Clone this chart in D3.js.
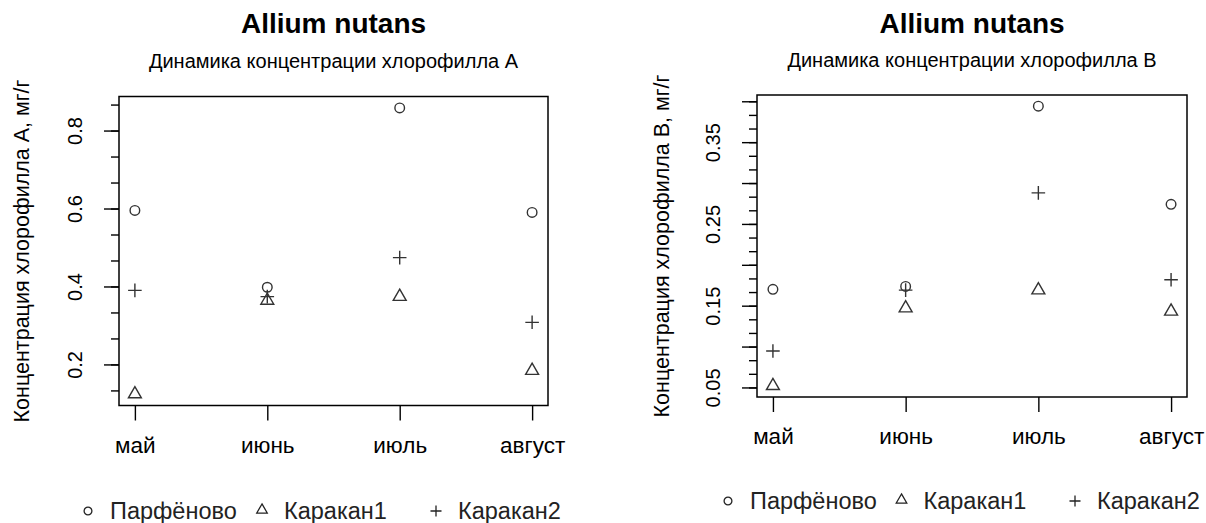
<!DOCTYPE html>
<html>
<head>
<meta charset="utf-8">
<script src="https://cdn.jsdelivr.net/npm/d3@7"></script>
<style>
  body { margin: 0; background: #fff; }
  svg { display: block; font-family: "Liberation Sans", Arial, sans-serif; }
</style>
</head>
<body>
<svg id="chart" width="1206" height="523"></svg>
<script>
// data
var months = ["май", "июнь", "июль", "август"];
var sites = ["Парфёново", "Каракан1", "Каракан2"];
var symbols = ["circle", "triangle", "plus"];

// chlorophyll A, mg/g
var chlA_parf = [0.595, 0.398, 0.858, 0.590];
var chlA_kar1 = [0.124, 0.364, 0.374, 0.184];
var chlA_kar2 = [0.390, 0.374, 0.474, 0.308];

// chlorophyll B, mg/g
var chlB_parf = [0.170, 0.1736, 0.394, 0.274];
var chlB_kar1 = [0.052, 0.147, 0.169, 0.143];
var chlB_kar2 = [0.0945, 0.169, 0.288, 0.1818];

// axis ticks
var majorA = [0.2, 0.4, 0.6, 0.8];
var labelsA = ["0.2", "0.4", "0.6", "0.8"];
var majorB = [0.05, 0.10, 0.15, 0.20, 0.25, 0.30, 0.35, 0.40];
var labelsB = ["0.05", "", "0.15", "", "0.25", "", "0.35", ""];

var svg = d3.select("#chart");

// symbol paths (R pch 1, 2, 3)
function shape(type, s) {
  if (type == "circle") {
    return "M" + s + ",0A" + s + "," + s + " 0 1,1 " + (-s) + ",0A" + s + "," + s + " 0 1,1 " + s + ",0Z";
  }
  if (type == "triangle") {
    var r = 1.5551 * s, xc = 1.3468 * s, yc = 0.7776 * s;
    return "M0," + (-r) + "L" + xc + "," + yc + "L" + (-xc) + "," + yc + "Z";
  }
  var p = 1.4142 * s;
  return "M" + (-p) + ",0H" + p + "M0," + (-p) + "V" + p;
}

function panel(opt) {
  var g = svg.append("g");
  var w = opt.right - opt.left, h = opt.bottom - opt.top;

  // R-like 4% padding around the data range
  var all = d3.merge(opt.series);
  var ext = d3.extent(all), pad = (ext[1] - ext[0]) * 0.04;

  var x = d3.scaleLinear()
    .domain([1 - 0.12, months.length + 0.12])
    .range([opt.left, opt.right]);
  var y = d3.scaleLinear()
    .domain([ext[0] - pad, ext[1] + pad])
    .range([opt.bottom, opt.top]);

  // minor ticks: thirds between majors, inside the range
  var step = opt.major[1] - opt.major[0];
  var minor = [];
  for (var v = opt.major[0] - step; v < y.domain()[1]; v += step / 3) {
    if (v > y.domain()[0]) minor.push(v);
  }

  g.append("g")
    .attr("transform", "translate(" + opt.left + ",0)")
    .call(d3.axisLeft(y).tickValues(minor).tickSize(8).tickFormat(""))
    .call(function(a) { a.select(".domain").remove(); });

  var yAxis = g.append("g")
    .attr("transform", "translate(" + opt.left + ",0)")
    .call(d3.axisLeft(y).tickValues(opt.major).tickSize(15)
      .tickFormat(function(d, i) { return opt.labels[i]; }));
  yAxis.select(".domain").remove();
  yAxis.selectAll("text")
    .attr("x", 0).attr("y", 0).attr("dy", null)
    .attr("text-anchor", "middle")
    .attr("transform", "translate(-37,0) rotate(-90)")
    .style("font-size", "20px")
    .attr("fill", "#000");
  g.selectAll("line").attr("stroke", "#000").attr("stroke-width", 1.4);

  var xAxis = g.append("g")
    .attr("transform", "translate(0," + opt.bottom + ")")
    .call(d3.axisBottom(x).tickValues([1, 2, 3, 4]).tickSize(15)
      .tickFormat(function(d) { return months[d - 1]; }));
  xAxis.select(".domain").remove();
  xAxis.selectAll("line").attr("stroke", "#000").attr("stroke-width", 1.4);
  xAxis.selectAll("text")
    .attr("y", 47).attr("dy", null)
    .style("font-size", "22.5px")
    .attr("fill", "#000");

  g.append("rect")
    .attr("x", opt.left).attr("y", opt.top)
    .attr("width", w).attr("height", h)
    .attr("fill", "none").attr("stroke", "#000").attr("stroke-width", 1.5);

  // points
  opt.series.forEach(function(vals, si) {
    g.selectAll(".p" + si)
      .data(vals)
      .enter().append("path")
      .attr("d", shape(symbols[si], 4.8))
      .attr("transform", function(d, i) {
        return "translate(" + x(i + 1) + "," + y(d) + ")";
      })
      .attr("fill", "none")
      .attr("stroke", "#333")
      .attr("stroke-width", 1.4);
  });

  var cx = (opt.left + opt.right) / 2;
  g.append("text")
    .attr("x", cx).attr("y", 33)
    .attr("text-anchor", "middle")
    .style("font-size", "28px").style("font-weight", "bold")
    .text("Allium nutans");
  g.append("text")
    .attr("x", cx).attr("y", opt.subY)
    .attr("text-anchor", "middle")
    .style("font-size", "20px")
    .text(opt.subtitle);

  g.append("text")
    .attr("transform", "translate(" + opt.ytitleX + "," + (opt.top + opt.bottom) / 2 + ") rotate(-90)")
    .attr("text-anchor", "middle")
    .style("font-size", "21.5px")
    .text(opt.ytitle);

  // legend
  var leg = g.selectAll(".leg")
    .data(sites)
    .enter().append("g")
    .attr("transform", function(d, i) {
      return "translate(" + (opt.legX + i * opt.legStep) + "," + opt.legY + ")";
    });
  leg.append("path")
    .attr("d", function(d, i) { return shape(symbols[i], 3.9); })
    .attr("transform", function(d, i) { return "translate(0," + (i == 1 ? -1 : 0) + ")"; })
    .attr("fill", "none").attr("stroke", "#222").attr("stroke-width", 1.3);
  leg.append("text")
    .attr("x", 22).attr("y", 7.5)
    .style("font-size", "23.5px")
    .attr("fill", "#222")
    .text(function(d) { return d; });
}

panel({
  left: 119, right: 548, top: 96.5, bottom: 405.5,
  series: [chlA_parf, chlA_kar1, chlA_kar2],
  major: majorA, labels: labelsA,
  subtitle: "Динамика концентрации хлорофилла А",
  subY: 68,
  ytitle: "Концентрация хлорофилла А, мг/г",
  ytitleX: 29,
  legX: 88, legStep: 174, legY: 511
});

panel({
  left: 757, right: 1187, top: 95, bottom: 397,
  series: [chlB_parf, chlB_kar1, chlB_kar2],
  major: majorB, labels: labelsB,
  subtitle: "Динамика концентрации хлорофилла В",
  subY: 67,
  ytitle: "Концентрация хлорофилла В, мг/г",
  ytitleX: 669,
  legX: 728, legStep: 173.5, legY: 501
});
</script>
</body>
</html>
